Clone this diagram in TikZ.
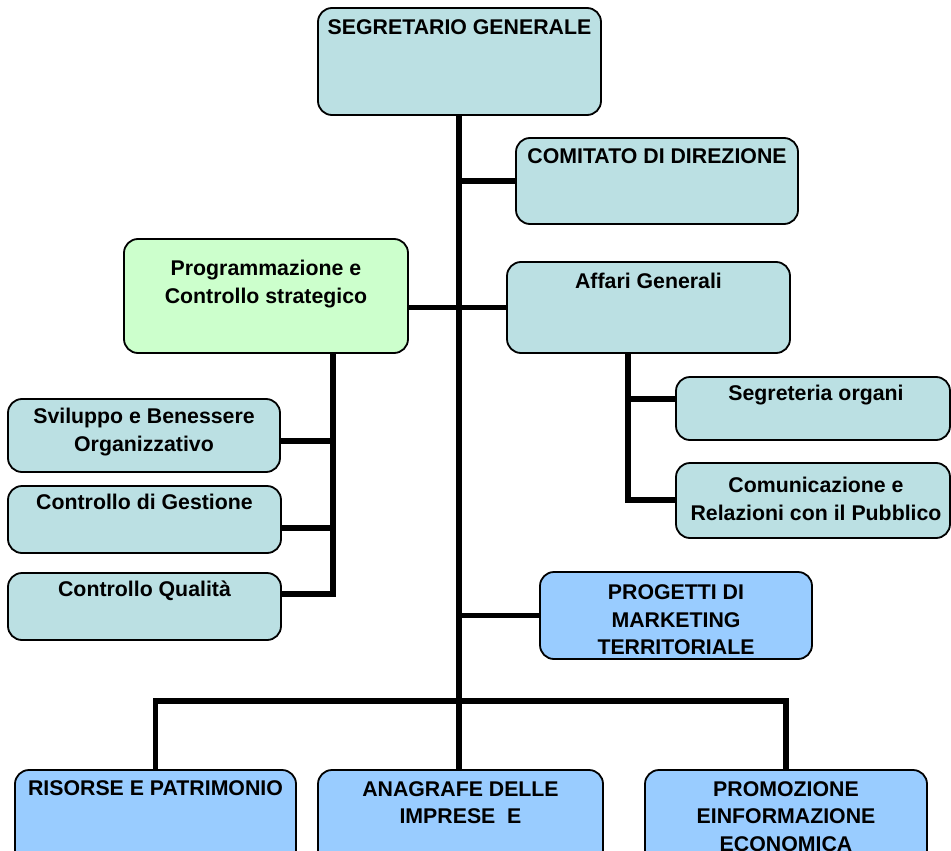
\documentclass[tikz,border=0pt]{standalone}
\usepackage{fontspec}
\setmainfont{Liberation Sans}
\definecolor{paleteal}{RGB}{187,224,227}
\definecolor{palegreen}{RGB}{204,255,204}
\definecolor{skyblue}{RGB}{153,204,255}
\begin{document}
\begin{tikzpicture}[x=1pt,y=-1pt,
  unitbox/.style={draw=black, line width=1.8pt, rounded corners=14pt,
    fill=paleteal, inner sep=0pt},
  greenbox/.style={unitbox, fill=palegreen},
  bluebox/.style={unitbox, fill=skyblue},
  caption/.style={font=\fontsize{21.3}{27.5}\selectfont\bfseries, align=center,
    anchor=north, inner sep=0pt, execute at begin node={\strut}},
  link/.style={draw=black, line width=5.5pt, line join=miter}]
\useasboundingbox (0,0) rectangle (951,851);
\clip (0,0) rectangle (951,851);

% boxes
\node[unitbox, minimum width=283, minimum height=107] (sg) at (459.5,61.5) {};
\node[unitbox, minimum width=282, minimum height=86] (com) at (657,181) {};
\node[greenbox, minimum width=284, minimum height=114] (prog) at (266,296) {};
\node[unitbox, minimum width=283, minimum height=91] (aff) at (648.5,307.5) {};
\node[unitbox, minimum width=274, minimum height=63] (segr) at (813,408.5) {};
\node[unitbox, minimum width=274, minimum height=75] (comu) at (813,500.5) {};
\node[unitbox, minimum width=272, minimum height=73] (svil) at (144,435.5) {};
\node[unitbox, minimum width=273, minimum height=67] (gest) at (144.5,519.5) {};
\node[unitbox, minimum width=273, minimum height=67] (qual) at (144.5,606.5) {};
\node[bluebox, minimum width=272, minimum height=87] (proj) at (676,615.5) {};
\node[bluebox, minimum width=281, minimum height=100] (ris) at (155.5,820) {};
\node[bluebox, minimum width=285, minimum height=100] (ana) at (460.5,820) {};
\node[bluebox, minimum width=282, minimum height=100] (prom) at (786,820) {};

% captions
\node[caption] (sg-t) at (459.5,14.75) {SEGRETARIO GENERALE};
\node[caption] (com-t) at (657,143.75) {COMITATO DI DIREZIONE};
\node[caption] (prog-t) at (266,260) {Programmazione e\\Controllo strategico};
\node[caption] (aff-t) at (648.5,268.75) {Affari Generali};
\node[caption] (segr-t) at (816,380.75) {Segreteria organi};
\node[caption] (comu-t) at (816,477) {Comunicazione e\\Relazioni con il Pubblico};
\node[caption] (svil-t) at (144,408.25) {Sviluppo e Benessere\\Organizzativo};
\node[caption] (gest-t) at (144.5,489.75) {Controllo di Gestione};
\node[caption] (qual-t) at (144.5,576.75) {Controllo Qualità};
\node[caption] (proj-t) at (676,584.5) {PROGETTI DI\\MARKETING\\TERRITORIALE};
\node[caption] (ris-t) at (155.5,775.75) {RISORSE E PATRIMONIO};
\node[caption] (ana-t) at (460.5,781) {ANAGRAFE DELLE\\IMPRESE\ \ E};
\node[caption] (prom-t) at (786,781) {PROMOZIONE\\EINFORMAZIONE\\ECONOMICA};

% junction points
\coordinate (hub) at (459,701);
\coordinate (j1) at (333,441);
\coordinate (j2) at (333,528);
\coordinate (j3) at (333,594);
\coordinate (j4) at (628,399);
\coordinate (j5) at (628,500);

% trunk and branches
\draw[link] (sg.south -| hub) -- (hub);
\draw[link] (hub |- com.west) -- (com.west);
\draw[link] (prog.east |- aff.west) -- (aff.west);
\draw[link] (hub |- proj.west) -- (proj.west);

% staff units under Programmazione
\draw[link] (prog.south -| j3) -- (j3) -- (qual.east |- j3);
\draw[link] (svil.east |- j1) -- (j1);
\draw[link] (gest.east |- j2) -- (j2);

% offices under Affari Generali
\draw[link] (aff.south -| j5) -- (j5) -- (comu.west |- j5);
\draw[link] (j4) -- (segr.west |- j4);

% bottom areas
\draw[link] (ris.north) -- (ris.north |- hub) -- (prom.north |- hub) -- (prom.north);
\draw[link] (hub) -- (ana.north -| hub);
\end{tikzpicture}
\end{document}
